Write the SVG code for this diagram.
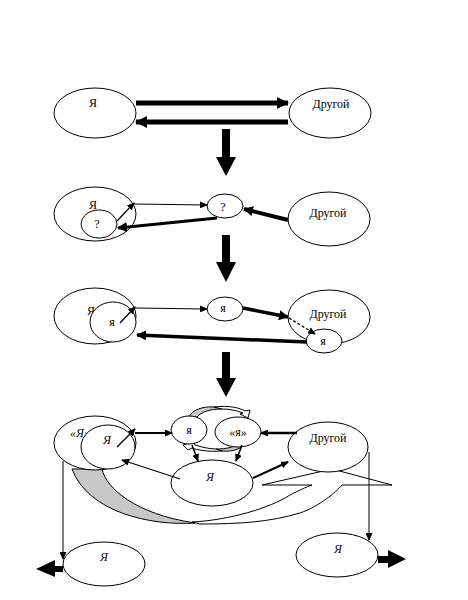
<svg xmlns="http://www.w3.org/2000/svg" width="468" height="600" viewBox="0 0 468 600">
<style>
.n{fill:#fff;stroke:#000;stroke-width:1}
.t{font-family:"Liberation Serif","Times New Roman",serif;font-size:12px;text-anchor:middle;fill:#000}
.i{font-style:italic}
.c{stroke:#000;fill:none}
.dn{fill:#000}
</style>
<defs>
<marker id="big" markerUnits="userSpaceOnUse" markerWidth="12" markerHeight="12" refX="11" refY="6" orient="auto"><path d="M0,0 L12,6 L0,12 z" fill="#000"/></marker>
<marker id="mid" markerUnits="userSpaceOnUse" markerWidth="10" markerHeight="10" refX="9" refY="5" orient="auto"><path d="M0,0 L10,5 L0,10 z" fill="#000"/></marker>
<marker id="sm" markerUnits="userSpaceOnUse" markerWidth="8" markerHeight="7" refX="7" refY="3.5" orient="auto"><path d="M0,0 L8,3.5 L0,7 z" fill="#000"/></marker>
</defs>
<rect width="468" height="600" fill="#fff"/>

<!-- big curved band (section 4) -->
<g id="band">
<path d="M72,469 L102,469 C106,488 135,514 195,523 C150,526 88,512 72,469 Z" fill="#c8c8c8" stroke="#000"/>
<path d="M192,522 C230,520 270,508 290,495 C300,490 306,487 312,485 L262,485 L332,469 L392,485 L342,485 C336,492 320,506 300,513 C270,522 240,524 200,524 Z" fill="#fff" stroke="#000"/>
</g>

<!-- section 1 -->
<g id="s1-ya"><ellipse class="n" cx="95" cy="113" rx="41" ry="25"/><text class="t" x="93" y="107">Я</text></g>
<g id="s1-drugoy"><ellipse class="n" cx="330" cy="113" rx="41" ry="25"/><text class="t" x="331" y="108">Другой</text></g>

<!-- section 2 -->
<g id="s2-ya"><ellipse class="n" cx="95" cy="214" rx="41" ry="27"/><text class="t" x="93" y="209">Я</text></g>
<g id="s2-q-inner"><ellipse class="n" cx="99" cy="224" rx="18" ry="14"/><text class="t" x="97" y="228">?</text></g>
<g id="s2-q"><ellipse class="n" cx="225" cy="206" rx="18" ry="12"/><text class="t" x="223" y="211">?</text></g>
<g id="s2-drugoy"><ellipse class="n" cx="329" cy="219" rx="41" ry="27"/><text class="t" x="328" y="217">Другой</text></g>

<!-- section 3 -->
<g id="s3-ya"><ellipse class="n" cx="95" cy="316" rx="41" ry="28"/><text class="t" x="91" y="315">Я</text></g>
<g id="s3-ya-inner"><ellipse class="n" cx="113" cy="322" rx="23" ry="20"/><text class="t" x="112" y="326">я</text></g>
<g id="s3-ya-mid"><ellipse class="n" cx="225" cy="309" rx="18" ry="12"/><text class="t" x="223" y="312">я</text></g>
<g id="s3-drugoy"><ellipse class="n" cx="329" cy="317" rx="41" ry="27"/><text class="t" x="328" y="318">Другой</text></g>
<g id="s3-ya-other"><ellipse class="n" cx="324" cy="341" rx="18" ry="12"/><text class="t" x="323" y="345">я</text></g>

<!-- section 4 -->
<g id="s4-ya-outer"><ellipse class="n" cx="95" cy="443" rx="41" ry="27"/><text class="t i" x="80" y="437">«Я»</text></g>
<g id="s4-ya-inner"><ellipse class="n" cx="108" cy="447" rx="27" ry="22"/><text class="t i" x="107" y="444">Я</text></g>
<g id="cloud">
<path d="M189,417 C192,410 203,406 214,407 L222,409 C210,409 201,412 197,417 Z" fill="#c8c8c8" stroke="#000"/>
<path d="M214,407 C229,405 240,408 245,411 L250,410 L248,418 L240,414 L243,413 C236,410 228,409 222,409 Z" fill="#fff" stroke="#000"/>
<path d="M245,443 C242,449 232,452 222,451 L216,449 C227,449 235,447 238,443 Z" fill="#c8c8c8" stroke="#000"/>
<path d="M222,451 C208,452 197,450 192,448 L188,450 L183,445 L193,442 L195,445 C201,447 210,449 216,449 Z" fill="#fff" stroke="#000"/>
</g>
<g id="s4-ya-small"><ellipse class="n" cx="189" cy="430" rx="18" ry="14"/><text class="t" x="189" y="434">я</text></g>
<g id="s4-ya-quote"><ellipse class="n" cx="238" cy="432" rx="23" ry="15"/><text class="t" x="238" y="436">«я»</text></g>
<g id="s4-ya-big"><ellipse class="n" cx="212" cy="483" rx="41" ry="23"/><text class="t i" x="210" y="481">Я</text></g>
<g id="s4-drugoy"><ellipse class="n" cx="328" cy="447" rx="40" ry="25"/><text class="t" x="328" y="442">Другой</text></g>

<!-- bottom -->
<g id="b-ya-left"><ellipse class="n" cx="104" cy="564" rx="41" ry="22"/><text class="t i" x="104" y="561">Я</text></g>
<g id="b-ya-right"><ellipse class="n" cx="337" cy="555" rx="41" ry="22"/><text class="t i" x="338" y="553">Я</text></g>

<g id="connectors">
<!-- section 1 -->
<path class="c" d="M136,103 L288,103" stroke-width="5" marker-end="url(#big)"/>
<path class="c" d="M288,122 L136,122" stroke-width="5" marker-end="url(#big)"/>
<!-- big down arrows -->
<path class="dn" d="M222,129 H230 V157 H236 L226,176 L216,157 H222 Z"/>
<path class="dn" d="M222,235 H230 V262 H236 L226,282 L216,262 H222 Z"/>
<path class="dn" d="M222,352 H230 V378 H236 L226,397 L216,378 H222 Z"/>
<!-- section 2 -->
<path class="c" d="M117,221 L134,203" stroke-width="1.2" marker-end="url(#sm)"/>
<path class="c" d="M134,204 L207,205" stroke-width="1" marker-end="url(#sm)"/>
<path class="c" d="M217,218 L118,228" stroke-width="3" marker-end="url(#mid)"/>
<path class="c" d="M288,220 L244,209" stroke-width="4" marker-end="url(#mid)"/>
<!-- section 3 -->
<path class="c" d="M120,323 L135,307" stroke-width="1.2" marker-end="url(#sm)"/>
<path class="c" d="M135,308 L207,309" stroke-width="1.2" marker-end="url(#sm)"/>
<path class="c" d="M243,308 L288,317" stroke-width="3.5" marker-end="url(#mid)"/>
<path class="c" d="M289,318 L315,334" stroke-width="1.3" stroke-dasharray="3,2" marker-end="url(#sm)"/>
<path class="c" d="M307,342 L137,335" stroke-width="3.5" marker-end="url(#mid)"/>
<!-- section 4 -->
<path class="c" d="M117,447 L135,429" stroke-width="1.2" marker-end="url(#sm)"/>
<path class="c" d="M135,433 L172,433" stroke-width="2" marker-end="url(#sm)"/>
<path class="c" d="M297,433 L261,433" stroke-width="2.5" marker-end="url(#sm)"/>
<path class="c" d="M192,445 L198,461" stroke-width="1.5" marker-end="url(#sm)"/>
<path class="c" d="M242,445 L236,461" stroke-width="1.5" marker-end="url(#sm)"/>
<path class="c" d="M180,479 L122,460" stroke-width="1.2" marker-end="url(#sm)"/>
<path class="c" d="M253,478 L288,462" stroke-width="2" marker-end="url(#sm)"/>
<path class="c" d="M63,461 L63,559" stroke-width="1" marker-end="url(#sm)"/>
<path class="c" d="M369,452 L369,540" stroke-width="1" marker-end="url(#sm)"/>
<!-- bottom big arrows -->
<path class="dn" d="M63,566 V572 H55 V577 L36,569 L55,560 V566 Z"/>
<path class="dn" d="M378,556 H388 V550 L406,559 L388,568 V563 H378 Z"/>
</g>
</svg>
